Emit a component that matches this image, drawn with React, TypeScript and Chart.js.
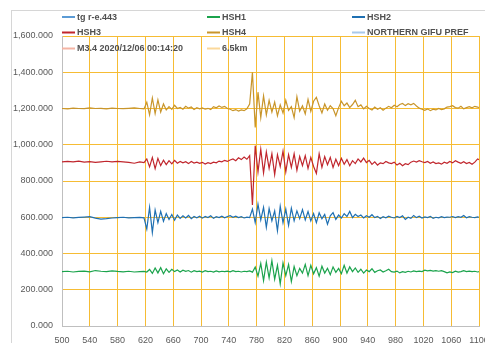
import React, { useEffect, useRef } from "react";
import { Chart, registerables } from "chart.js";

Chart.register(...registerables);

// sample times (seconds index): coarse in the quiet lead-in, then every 4
const TIME: number[] = [];
for (let t = 500; t <= 612; t += 8) TIME.push(t);
for (let t = 618; t <= 1098; t += 4) TIME.push(t);
TIME.push(1100);

const X_TICKS = [500, 540, 580, 620, 660, 700, 740, 780, 820, 860, 900, 940, 980, 1020, 1060, 1100];
const Y_TICKS = [0, 200, 400, 600, 800, 1000, 1200, 1400, 1600];

const HSH4 = [
  1200, 1198, 1202, 1200, 1199, 1203, 1200, 1201, 1198, 1202, 1200, 1199, 1201, 1203, 1200,
  1198, 1235, 1165, 1258, 1172, 1248, 1180, 1225, 1192, 1210,
  1195, 1218, 1200, 1206, 1196, 1212, 1202, 1208, 1195, 1204,
  1198, 1203, 1196, 1201, 1194, 1210, 1204, 1214, 1206, 1212,
  1200, 1196, 1188, 1194, 1186, 1192, 1188, 1198, 1225, 1400,
  1095, 1290, 1150, 1270, 1165, 1245, 1180, 1235, 1160, 1220,
  1175, 1245, 1190, 1210, 1150, 1265, 1185, 1215, 1170, 1250,
  1185, 1240, 1262, 1215, 1175, 1225, 1190, 1215, 1200, 1160,
  1205, 1240, 1215, 1230, 1205, 1222, 1245, 1210, 1220, 1198,
  1212, 1200, 1192, 1208, 1196, 1204, 1190, 1202, 1212, 1204,
  1218, 1210, 1222, 1228, 1216, 1226, 1220, 1228, 1214, 1202,
  1196, 1190, 1198, 1188, 1196, 1192, 1200, 1194, 1198, 1208,
  1210, 1215, 1205, 1202, 1212, 1198, 1205, 1210, 1204, 1212,
  1208, 1205,
];

const HSH3 = [
  905, 908, 906, 910, 904, 907, 903, 906, 909, 905, 908, 906, 903, 898, 905,
  902, 922, 878, 930, 868, 925, 885, 915, 890, 912,
  895, 914, 898, 908, 900, 906, 896, 908, 899, 904,
  897, 903, 894, 901, 896, 904, 900, 910, 906, 914,
  908, 916, 922, 912, 928, 918, 932, 920, 940, 668,
  995, 850, 975, 845, 960, 870, 950, 835, 945, 880,
  965, 850, 945, 875, 950, 860, 935, 885, 940, 870,
  930, 880, 842, 950, 875, 935, 890, 930, 875, 920,
  885, 925, 892, 918, 884, 912, 896, 922, 905, 926,
  902, 914, 892, 906, 888, 900, 896, 908, 900, 896,
  904, 888, 898, 884, 895, 890, 904, 910, 904, 912,
  906, 902, 908, 898, 905, 896, 900, 893, 904, 898,
  908, 900, 912, 904, 898, 906, 896, 902, 892, 904,
  922, 918,
];

const HSH2 = [
  598, 600, 597, 599, 601, 603, 595, 590, 592, 596, 598, 600, 597, 598, 599,
  597, 535, 655, 515, 640, 570, 632, 578, 620, 588,
  615, 584, 612, 594, 608, 596, 610, 592, 604, 597,
  606, 595, 604, 598, 608, 594, 603, 598, 606, 597,
  604, 609, 600, 606, 598, 603, 596, 601, 598, 645,
  570, 672, 585, 655, 545, 648, 580, 635, 525, 660,
  570, 645, 555, 650, 580, 635, 592, 642, 585, 632,
  580, 620, 570, 625, 592, 615, 562, 608, 625, 588,
  612, 596, 620, 604, 632, 598, 616, 604, 612, 596,
  608, 600, 614, 598, 605, 593, 603, 597, 606, 600,
  596, 604, 598, 608, 588, 600, 594, 610, 598, 606,
  596, 602, 598, 605, 594, 600, 597, 603, 598, 601,
  600, 604, 598, 603, 600, 610, 597, 603, 600, 598,
  602, 600,
];

const HSH1 = [
  300, 302, 298, 301, 303, 299, 306, 302, 300, 304, 301, 299, 302, 298, 300,
  301, 298, 312, 290, 320, 293, 322, 288, 315, 296,
  313, 300, 309, 298, 308, 302, 306, 297, 305, 300,
  303, 298, 305, 300, 302, 297, 304, 299, 302, 300,
  303, 299, 305, 300, 302, 298, 302, 300, 304, 297,
  325, 275, 345, 250, 352, 265, 360, 258, 335, 232,
  348, 278, 340, 245, 328, 278, 318, 292, 340, 278,
  335, 288, 322, 275, 330, 292, 318, 283, 326, 296,
  318, 288, 335, 292, 326, 300, 320, 296, 313, 292,
  309, 300, 316, 296, 305, 309, 298, 305, 313, 300,
  297, 303, 293, 300, 296, 302, 298, 304, 300, 303,
  300, 308, 304, 307, 303, 305, 302, 305, 300, 293,
  298, 295, 302, 297, 300, 305, 300, 303, 300, 302,
  298, 300,
];

const SERIES_NAMES = ["tg r-e.443", "HSH1", "HSH2", "HSH3", "HSH4", "NORTHERN GIFU PREF", "M3.4 2020/12/06 00:14:20", "6.5km"];
const SERIES_COLORS = ["#5b9bd5", "#1ba34c", "#1f70b2", "#c0262d", "#c8952b", "#a9c9ea", "#f4b4a4", "#fbd89a"];
const SERIES_VALUES: (number[] | null)[] = [null, HSH1, HSH2, HSH3, HSH4, null, null, null];

const FONT = '"Liberation Sans", Arial, sans-serif';
const GRID = "rgb(246,188,52)";

const legendPlugin = {
  id: "gridLegend",
  afterDraw(chart: any) {
    const ctx = chart.ctx;
    const cols = [62, 207, 352];
    const rows = [17, 32.5, 48.5];
    ctx.save();
    ctx.font = `bold 9px ${FONT}`;
    ctx.textBaseline = "middle";
    ctx.textAlign = "left";
    chart.data.datasets.forEach((ds: any, i: number) => {
      const x = cols[i % 3];
      const y = rows[Math.floor(i / 3)];
      ctx.strokeStyle = ds.borderColor;
      ctx.lineWidth = 2;
      ctx.beginPath();
      ctx.moveTo(x, y);
      ctx.lineTo(x + 13, y);
      ctx.stroke();
      ctx.fillStyle = "#505050";
      ctx.fillText(ds.label, x + 15, y + 0.5);
    });
    ctx.restore();
  },
};

export default function App() {
  const ref = useRef<HTMLCanvasElement | null>(null);
  useEffect(() => {
    if (!ref.current) return;
    const datasets = SERIES_NAMES.map((name, i) => {
      const vals = SERIES_VALUES[i];
      return {
        label: name,
        data: vals ? TIME.map((t, k) => ({ x: t, y: vals[k] })) : [],
        borderColor: SERIES_COLORS[i],
        backgroundColor: SERIES_COLORS[i],
        borderWidth: 1.2,
        pointRadius: 0,
        tension: 0,
        fill: false,
      };
    });
    const chart = new Chart(ref.current, {
      type: "line",
      data: { datasets },
      plugins: [legendPlugin],
      options: {
        animation: false,
        responsive: false,
        maintainAspectRatio: false,
        layout: { padding: { left: 0, top: 36, right: 21, bottom: 0 } },
        plugins: { legend: { display: false }, tooltip: { enabled: false } },
        scales: {
          x: {
            type: "linear",
            min: 500,
            max: 1100,
            afterBuildTicks: (s: any) => {
              s.ticks = X_TICKS.map((v) => ({ value: v }));
            },
            afterFit: (s: any) => {
              s.height = 24;
            },
            ticks: {
              autoSkip: false,
              maxRotation: 0,
              padding: 9,
              color: "#595959",
              font: { family: FONT, size: 9 },
              callback: (v: any) => String(v),
            },
            grid: { color: GRID, lineWidth: 1, drawTicks: false },
            border: { color: "#bfbfbf", width: 1 },
          },
          y: {
            min: 0,
            max: 1600,
            afterBuildTicks: (s: any) => {
              s.ticks = Y_TICKS.map((v) => ({ value: v }));
            },
            afterFit: (s: any) => {
              s.width = 62;
            },
            ticks: {
              padding: 9,
              color: "#595959",
              font: { family: FONT, size: 9 },
              callback: (v: any) =>
                Number(v).toLocaleString("en-US", { minimumFractionDigits: 3, maximumFractionDigits: 3 }),
            },
            grid: { color: GRID, lineWidth: 1, drawTicks: false },
            border: { color: "#bfbfbf", width: 1 },
          },
        },
      },
    });
    return () => chart.destroy();
  }, []);

  return (
    <div style={{ position: "fixed", left: 0, top: 0, width: 485, height: 343, overflow: "hidden", background: "#fff" }}>
      <div
        style={{
          position: "absolute",
          left: 11,
          top: 10,
          width: 600,
          height: 500,
          borderLeft: "1px solid #d6d6d6",
          borderTop: "1px solid #d6d6d6",
        }}
      />
      <canvas ref={ref} width={500} height={350} style={{ position: "absolute", left: 0, top: 0, width: 500, height: 350 }} />
    </div>
  );
}
